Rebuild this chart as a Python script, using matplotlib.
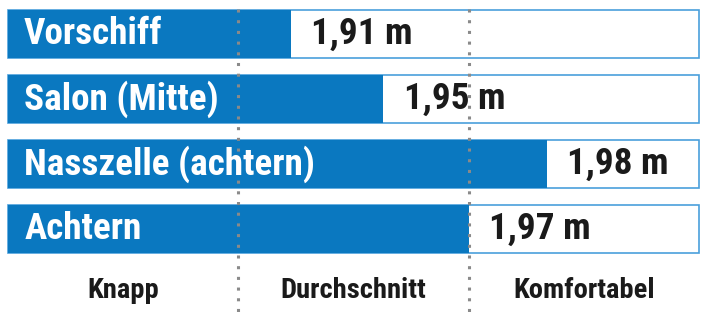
import matplotlib
matplotlib.use('Agg')
import matplotlib.pyplot as plt
from matplotlib import font_manager

# Stehhöhen je Bereich
bereiche = ['Vorschiff', 'Salon (Mitte)', 'Nasszelle (achtern)', 'Achtern']
hoehen = ['1,91 m', '1,95 m', '1,98 m', '1,97 m']
# Position auf der Skala Knapp (0-1) / Durchschnitt (1-2) / Komfortabel (2-3)
wertung = [1.23, 1.63, 2.34, 2.0]
klassen = ['Knapp', 'Durchschnitt', 'Komfortabel']

blau = '#0a78c0'
rand = '#4a9fdc'

# schmale Schrift suchen, sonst Roboto
namen = {f.name for f in font_manager.fontManager.ttflist}
schrift = 'Roboto'
for kandidat in ['Liberation Sans Narrow', 'Roboto Condensed', 'Open Sans Condensed', 'DejaVu Sans Condensed']:
    if kandidat in namen:
        schrift = kandidat
        break
plt.rcParams['font.family'] = [schrift, 'DejaVu Sans']

fig = plt.figure(figsize=(7.12, 3.21), dpi=100)
ax = fig.add_axes([0, 0, 1, 1])
ax.set_xlim(-8 / 230.33, 3 + 13 / 230.33)
ax.set_ylim((321 - 34) / 65, -34 / 65)
ax.axis('off')

y = list(range(len(bereiche)))
ax.barh(y, 3, height=0.75, color='white', edgecolor=rand, linewidth=1.2, zorder=1)
ax.barh(y, wertung, height=0.75, color=blau, linewidth=0, zorder=2)

for i in range(1, len(klassen)):
    ax.plot([i, i], [-0.377, 4.3], color='#8a8a8a', linestyle=(0, (1, 2.5)),
            linewidth=2.2, zorder=3)

for i in y:
    ax.text(0.07, i, bereiche[i], color='white', fontsize=26.7, fontweight='bold',
            va='center', ha='left', zorder=4)
    ax.annotate(hoehen[i], (wertung[i], i), xytext=(14.5, 0), textcoords='offset points',
                fontsize=26.7, fontweight='bold', color='#1a1a1a', va='center', ha='left', zorder=4)

for k, name in enumerate(klassen):
    ax.text(k + 0.5, 3.95, name, fontsize=20.5, fontweight='bold', color='#1a1a1a',
            ha='center', va='center')

fig.savefig('out.png', dpi=100)
